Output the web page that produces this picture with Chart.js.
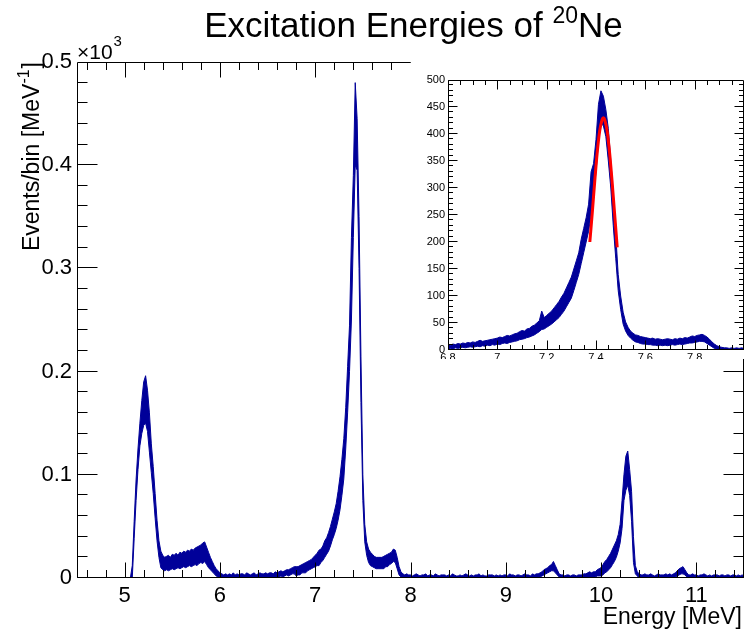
<!DOCTYPE html>
<html><head><meta charset="utf-8">
<script src="https://cdn.jsdelivr.net/npm/chart.js@4.4.0/dist/chart.umd.min.js"></script>
<style>
html,body{margin:0;padding:0;background:#fff;}
#wrap{position:relative;width:744px;height:635px;overflow:hidden;}
#main{position:absolute;left:0;top:0;}
#inset{position:absolute;left:411px;top:58px;background:#fff;}
</style></head><body>
<div id="wrap"><canvas id="main" width="744" height="635"></canvas><canvas id="inset" width="333" height="301"></canvas></div>
<script>
// ---------- DATA ----------
// Main histogram: bins start at 4.50 MeV, 0.02 MeV wide; envelope (min / max of the fine bins) in counts
const mainStart = 4.5, mainStep = 0.02;
const mainLow = [
 0,0,0,0,0, 0,0,0,0,0, 0,0,0,0,0, 0,0,0,0,0, 0,0,0,0,0,
 0,0,0,0,0, 38,75,105,128,140, 148,150,142,122,102, 82,58,36,20,10, 8,7,8,7,8,
 9,8,9,10,9, 10,11,10,11,12, 11,12,13,12,14, 15,14,16,13,10, 8,6,4,2,1,
 0,0,0,0,0, 0,1,0,0,1, 0,0,1,0,0, 1,0,0,1,0, 0,1,0,1,1,
 1,0,1,1,0, 1,1,2,1,2, 3,2,3,4,4, 2,3,3,5,5, 5,7,8,9,10,
 11,12,12,15,17, 20,23,26,31,37, 42,48,56,66,80, 96,125,160,200,250, 330,400,395,300,170,
 75,35,22,15,12, 11,10,9,9,9, 9,9,11,11,13, 14,16,15,9,3, 1,0,0,0,0,
 0,0,0,0,1, 0,0,1,0,0, 0,1,0,0,0, 0,0,0,1,0, 0,0,1,0,0,
 0,0,0,0,1, 0,0,0,0,0, 0,1,0,0,0, 0,0,0,1,0, 0,0,0,0,0,
 0,0,1,0,0, 0,0,0,0,1, 0,1,0,0,0, 0,1,1,1,2, 3,4,5,6,7,
 7,5,3,1,0, 0,0,0,0,0, 0,0,0,0,0, 0,0,0,1,1, 1,1,1,2,2,
 2,3,5,6,8, 10,13,16,20,26, 34,48,75,85,90, 80,55,15,4,2, 0,0,0,0,1,
 0,1,0,0,0, 0,0,1,0,0, 0,0,0,1,1, 2,3,4,4,3, 1,0,0,0,0,
 0,0,0,1,0, 0,0,0,0,0, 0,1,0,0,0, 0,0,0,0,1, 0,0,0,0,0,
 0];
const mainHigh = [
 0,0,0,0,0, 0,0,0,0,0, 0,0,0,0,0, 0,0,0,0,0, 0,0,0,0,0,
 0,0,0,0,12, 55,95,125,150,172, 190,196,182,160,130, 108,82,56,36,26, 22,20,21,22,20,
 23,22,24,22,25, 24,26,25,27,26, 28,27,29,30,31, 32,34,35,30,25, 20,16,12,9,7,
 5,4,3,4,3, 4,3,5,3,4, 3,4,4,3,5, 4,3,4,5,3, 4,5,4,4,5,
 4,5,5,4,6, 5,6,7,6,7, 8,8,9,10,11, 11,11,12,13,14, 15,16,17,18,20,
 22,24,27,28,31, 36,39,44,50,57, 64,72,84,98,115, 135,165,205,245,330, 390,480,445,350,215,
 100,52,35,28,25, 23,21,20,20,20, 20,21,22,23,24, 25,28,27,20,11, 6,4,3,4,3,
 3,2,3,4,3, 2,3,3,4,2, 3,3,2,4,3, 2,3,3,3,2, 3,2,4,3,2,
 2,3,2,3,4, 3,2,3,2,3, 3,4,2,3,2, 2,3,3,3,2, 3,2,3,2,3,
 3,2,4,3,3, 2,3,3,2,3, 4,3,3,2,4, 3,4,4,5,6, 8,9,10,12,13,
 16,12,8,4,3, 3,2,3,3,2, 3,3,2,3,3, 3,4,4,5,6, 5,6,6,8,9,
 10,13,16,18,21, 24,28,32,36,42, 52,75,100,118,123, 105,84,40,12,6, 4,3,3,4,3,
 3,4,3,2,3, 4,3,3,3,4, 3,4,3,4,5, 7,9,10,11,8, 5,3,3,4,3,
 3,2,3,3,4, 3,2,3,2,3, 3,3,2,3,3, 2,3,3,2,3, 3,2,3,2,3,
 2];

// Inset histogram: bins start at 6.80 MeV, 0.01 MeV wide
const insetStart = 6.8, insetStep = 0.01;
const insetLow = [
 2,3,2,4,3,4,5,4,5,6,
 5,6,7,6,8,7,9,8,10,9,
 11,10,12,13,12,14,15,16,17,19,
 20,21,23,24,26,28,31,34,38,39,
 42,45,48,52,56,60,66,72,80,88,
 96,110,125,140,160,180,200,220,250,290,
 330,385,420,415,395,350,300,230,170,110,
 75,48,35,27,22,18,15,14,12,11,
 11,10,10,9,9,8,9,8,9,8,
 9,10,9,10,11,10,11,12,13,13,
 14,15,16,16,15,12,9,6,3,2,
 1,0,0,0,0,0,0,0,0,0,
 0];
const insetHigh = [
 10,9,11,10,12,11,13,12,14,13,
 15,14,16,18,16,17,18,19,20,21,
 22,24,23,25,27,26,28,30,31,34,
 36,35,39,40,44,46,50,54,72,60,
 64,68,72,78,84,90,98,105,115,125,
 135,150,165,180,205,225,245,270,330,345,
 390,455,480,470,445,410,350,290,215,140,
 100,70,52,42,35,31,28,27,25,24,
 23,22,21,22,20,21,20,19,20,21,
 20,19,21,20,22,21,23,22,24,26,
 25,27,28,29,27,24,20,15,11,8,
 6,5,4,4,3,4,3,4,3,4,
 3];

// Gaussian fit drawn in red
const fitEnergy = [7.375,7.385,7.395,7.405,7.415,7.425,7.43,7.435,7.445,7.455,7.465,7.475,7.486];
const fitValue  = [200,255,313,366,406,427,430,427,406,366,313,255,190];

// Ticks / labels
const mainXTicks = [5,6,7,8,9,10,11];
const mainXLabels = ['5','6','7','8','9','10','11'];
const mainYTicks = [0,100,200,300,400,500];
const mainYLabels = ['0','0.1','0.2','0.3','0.4','0.5'];
const insetXTicks = [6.8,7.0,7.2,7.4,7.6,7.8];
const insetXLabels = ['6.8','7','7.2','7.4','7.6','7.8'];
const insetYTicks = [0,50,100,150,200,250,300,350,400,450,500];
const insetYLabels = ['0','50','100','150','200','250','300','350','400','450','500'];

const titleMain = 'Excitation Energies of ', titleSup = '20', titleEnd = 'Ne';
const xTitle = 'Energy [MeV]';
const yTitleMain = 'Events/bin [MeV', yTitleSup = '-1', yTitleEnd = ']';

// ---------- HELPERS ----------
const FONT = '"Liberation Sans", Arial, Helvetica, sans-serif';
const BLUE = '#000099';
function pts(start, step, arr){ return arr.map((v,i)=>({x: +(start + i*step).toFixed(4), y: v})); }

function frameTicks(chart, o){
  const {ctx, chartArea:a, scales:{x, y}} = chart;
  ctx.save();
  ctx.strokeStyle = '#000'; ctx.lineWidth = 1;
  const L = Math.round(a.left)+0.5, R = Math.round(a.right)-0.5, T = Math.round(a.top)+0.5, B = Math.round(a.bottom)-0.5;
  ctx.beginPath();
  ctx.rect(L, T, R-L, B-T);
  const xt = (v, len) => { const p = Math.round(x.getPixelForValue(v))+0.5; if (p < L-0.1 || p > R+0.6) return;
    ctx.moveTo(p, B); ctx.lineTo(p, B-len); ctx.moveTo(p, T); ctx.lineTo(p, T+len); };
  const yt = (v, len) => { const p = Math.round(y.getPixelForValue(v))-0.5; if (p < T-0.6 || p > B+0.6) return;
    ctx.moveTo(L, p); ctx.lineTo(L+len, p); ctx.moveTo(R, p); ctx.lineTo(R-len, p); };
  for (let k = 0; ; k++){ const v = o.xMinStart + k*o.xMinStep; if (v > x.max + 1e-9) break; xt(v, o.xMinLen); }
  for (let k = 0; ; k++){ const v = o.xMajStart + k*o.xMajStep; if (v > x.max + 1e-9) break; xt(v, o.xMajLen); }
  for (let k = 0; ; k++){ const v = y.min + k*o.yMinStep; if (v > y.max + 1e-9) break; yt(v, o.yMinLen); }
  for (let k = 0; ; k++){ const v = y.min + k*o.yMajStep; if (v > y.max + 1e-9) break; yt(v, o.yMajLen); }
  ctx.stroke();
  ctx.restore();
}

// ---------- MAIN CHART ----------
const mainPlugin = {
  id: 'mainDeco',
  afterDatasetsDraw(chart){
    frameTicks(chart, {xMajStart:5, xMajStep:1, xMinStart:4.6, xMinStep:0.2, xMajLen:15, xMinLen:7.5,
                       yMajStep:100, yMinStep:20, yMajLen:20, yMinLen:10});
  },
  afterDraw(chart){
    const {ctx, scales:{x, y}} = chart;
    ctx.save();
    ctx.fillStyle = '#000';
    // tick labels
    ctx.font = '22px ' + FONT;
    ctx.textAlign = 'center'; ctx.textBaseline = 'alphabetic';
    mainXTicks.forEach((v,i)=> ctx.fillText(mainXLabels[i], x.getPixelForValue(v), 602));
    ctx.textAlign = 'right'; ctx.textBaseline = 'middle';
    mainYTicks.forEach((v,i)=> ctx.fillText(mainYLabels[i], 72, y.getPixelForValue(v)));
    // x10^3
    ctx.textAlign = 'left'; ctx.textBaseline = 'alphabetic';
    ctx.font = '21px ' + FONT;
    ctx.fillText('\u00d710', 77, 59);
    const w10 = ctx.measureText('\u00d710').width;
    ctx.font = '15px ' + FONT;
    ctx.fillText('3', 77 + w10 + 1, 46);
    // x axis title
    ctx.font = '23px ' + FONT;
    ctx.textAlign = 'right';
    ctx.fillText(xTitle, 742, 624);
    // y axis title (rotated)
    ctx.save();
    ctx.translate(39, 62);
    ctx.rotate(-Math.PI/2);
    ctx.textAlign = 'left';
    ctx.font = '23px ' + FONT;
    const wm = ctx.measureText(yTitleMain).width;
    ctx.font = '16px ' + FONT;
    const ws = ctx.measureText(yTitleSup).width;
    ctx.font = '23px ' + FONT;
    const we = ctx.measureText(yTitleEnd).width;
    let sx = -(wm + ws + we + 1);
    ctx.fillText(yTitleMain, sx, 0);
    ctx.font = '16px ' + FONT;
    ctx.fillText(yTitleSup, sx + wm, -10);
    ctx.font = '23px ' + FONT;
    ctx.fillText(yTitleEnd, sx + wm + ws + 1, 0);
    ctx.restore();
    // title
    ctx.textAlign = 'left';
    ctx.font = '35px ' + FONT;
    const t1 = ctx.measureText(titleMain).width;
    const t3 = ctx.measureText(titleEnd).width;
    ctx.font = '23px ' + FONT;
    const t2 = ctx.measureText(titleSup).width;
    const tx = 413.5 - (t1 + t2 + t3)/2;
    ctx.font = '35px ' + FONT;
    ctx.fillText(titleMain, tx, 37);
    ctx.fillText(titleEnd, tx + t1 + t2, 37);
    ctx.font = '23px ' + FONT;
    ctx.fillText(titleSup, tx + t1, 23);
    ctx.restore();
  }
};

new Chart(document.getElementById('main'), {
  type: 'line',
  data: { datasets: [
    { data: pts(mainStart, mainStep, mainHigh), borderColor: BLUE, borderWidth: 1, pointRadius: 0, fill: false, tension: 0 },
    { data: pts(mainStart, mainStep, mainLow),  borderColor: BLUE, borderWidth: 1, pointRadius: 0, fill: '-1', backgroundColor: BLUE, tension: 0 }
  ]},
  options: {
    responsive: false, animation: false,
    layout: { padding: { left: 77, right: 0, top: 62, bottom: 57 } },
    plugins: { legend: { display: false }, tooltip: { enabled: false }, title: { display: false } },
    scales: {
      x: { type: 'linear', min: 4.5, max: 11.5, display: false },
      y: { type: 'linear', min: 0, max: 500, display: false }
    }
  },
  plugins: [mainPlugin]
});

// ---------- INSET CHART ----------
const insetPlugin = {
  id: 'insetDeco',
  afterDatasetsDraw(chart){
    frameTicks(chart, {xMajStart:6.8, xMajStep:0.2, xMinStart:6.8, xMinStep:0.05, xMajLen:9, xMinLen:4.5,
                       yMajStep:50, yMinStep:10, yMajLen:9, yMinLen:4.5});
  },
  afterDraw(chart){
    const {ctx, chartArea:a, scales:{x, y}} = chart;
    ctx.save();
    ctx.fillStyle = '#000';
    ctx.font = '11px ' + FONT;
    ctx.textAlign = 'right'; ctx.textBaseline = 'middle';
    insetYTicks.forEach((v,i)=> ctx.fillText(insetYLabels[i], a.left - 3, y.getPixelForValue(v)));
    ctx.textAlign = 'center'; ctx.textBaseline = 'top';
    insetXTicks.forEach((v,i)=> ctx.fillText(insetXLabels[i], x.getPixelForValue(v), a.bottom + 2));
    ctx.restore();
  }
};

new Chart(document.getElementById('inset'), {
  type: 'line',
  data: { datasets: [
    { data: pts(insetStart, insetStep, insetHigh), borderColor: BLUE, borderWidth: 1, pointRadius: 0, fill: false, tension: 0, order: 1 },
    { data: pts(insetStart, insetStep, insetLow),  borderColor: BLUE, borderWidth: 1, pointRadius: 0, fill: '-1', backgroundColor: BLUE, tension: 0, order: 1 },
    { data: fitEnergy.map((e,i)=>({x:e, y:fitValue[i]})), borderColor: '#ff0000', borderWidth: 3, pointRadius: 0, fill: false, tension: 0.3, order: 0 }
  ]},
  options: {
    responsive: false, animation: false,
    layout: { padding: { left: 37, right: 0, top: 22, bottom: 9 } },
    plugins: { legend: { display: false }, tooltip: { enabled: false } },
    scales: {
      x: { type: 'linear', min: 6.8, max: 8.0, display: false },
      y: { type: 'linear', min: 0, max: 500, display: false }
    }
  },
  plugins: [insetPlugin]
});
</script>
</body></html>
